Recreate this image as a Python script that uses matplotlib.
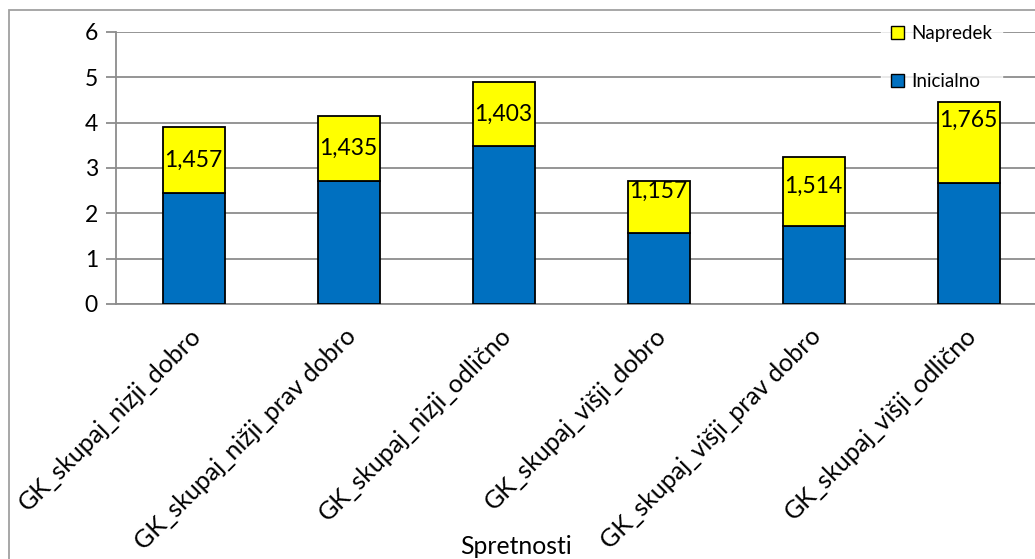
import numpy as np
import matplotlib.pyplot as plt
import matplotlib.transforms as mtransforms
from matplotlib.patches import Patch, Rectangle

plt.rcParams['font.family'] = ['Lato', 'DejaVu Sans']

categories = ['GK_skupaj_nizji_dobro', 'GK_skupaj_nižji_prav dobro',
              'GK_skupaj_nizji_odlično', 'GK_skupaj_višji_dobro',
              'GK_skupaj_višji_prav dobro', 'GK_skupaj_višji_odlično']
inicialno = [2.44, 2.71, 3.49, 1.56, 1.72, 2.68]
napredek = [1.457, 1.435, 1.403, 1.157, 1.514, 1.765]
label_texts = ['1,457', '1,435', '1,403', '1,157', '1,514', '1,765']
# vertical nudge of each value label from the segment centre, in points
label_shift = [0, 0, 0, 11, 4, 16]

blue = '#0070C0'
yellow = '#FFFF00'
grid_col = '#8C8C8C'

fig = plt.figure(figsize=(10.35, 5.59), dpi=100)
W, H = 1035, 559
ax = fig.add_axes([116 / W, 1 - 304 / H, 930 / W, 272 / H])

x = np.arange(len(categories))
ax.bar(x, inicialno, width=0.4, color=blue, edgecolor='black', linewidth=1.3,
       zorder=3)
bars = ax.bar(x, napredek, width=0.4, bottom=inicialno, color=yellow,
              edgecolor='black', linewidth=1.3, zorder=3)

for b, txt, dy in zip(bars, label_texts, label_shift):
    cx = b.get_x() + b.get_width() / 2
    cy = b.get_y() + b.get_height() / 2
    ax.annotate(txt, (cx, cy), xytext=(0, dy), textcoords='offset points',
                ha='center', va='center', fontsize=16.5, zorder=4)

ax.set_xlim(-0.5, len(categories) - 0.5)
ax.set_ylim(0, 6)
ax.set_yticks(range(7))
ax.yaxis.grid(True, color=grid_col, linewidth=1.3, zorder=0)
ax.set_axisbelow(True)
ax.tick_params(axis='y', length=7, width=1.3, color=grid_col, labelsize=16.5,
               pad=6)
ax.tick_params(axis='x', length=0, pad=10)
ax.set_xticks(x)
ax.set_xticklabels(categories, rotation=45, ha='right', rotation_mode='anchor',
                   fontsize=18)
shift = mtransforms.ScaledTranslation(-4 / 100, -6 / 100, fig.dpi_scale_trans)
for lbl in ax.get_xticklabels():
    lbl.set_transform(lbl.get_transform() + shift)
for s in ('top', 'right'):
    ax.spines[s].set_visible(False)
for s in ('left', 'bottom'):
    ax.spines[s].set_color(grid_col)
    ax.spines[s].set_linewidth(1.3)

fig.text(516 / W, 1 - 547 / H, 'Spretnosti', ha='center', va='center',
         fontsize=17.8)

handles = [Patch(facecolor=yellow, edgecolor='black', linewidth=1),
           Patch(facecolor=blue, edgecolor='black', linewidth=1)]
leg = fig.legend(handles, ['Napredek', 'Inicialno'], loc='upper left',
                 bbox_to_anchor=(872 / W, 1 - 6 / H), frameon=True,
                 fontsize=13.5, handlelength=0.7, handleheight=0.7,
                 handletextpad=0.4, labelspacing=1.65, borderpad=0.5,
                 fancybox=False)
leg.get_frame().set_facecolor('white')
leg.get_frame().set_edgecolor('white')
leg.set_zorder(10)

# outer chart border
fig.patches.append(Rectangle((9 / W, -0.1), 1.2, 1 - 10 / H + 0.1,
                             transform=fig.transFigure, fill=False,
                             edgecolor='#A0A0A0', linewidth=1.3))

fig.savefig('out.png', dpi=100)
